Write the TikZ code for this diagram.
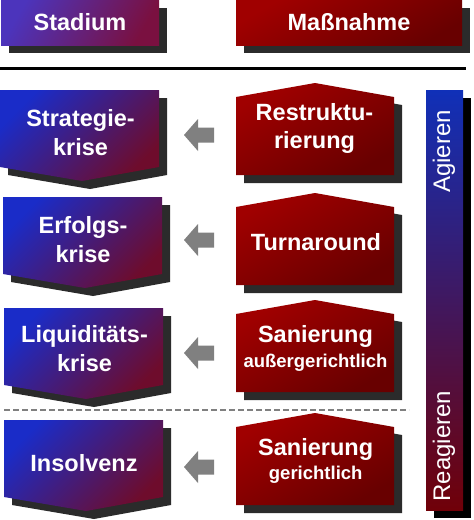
\documentclass[tikz,border=0pt]{standalone}
\usepackage{fontspec}
\setmainfont{Liberation Sans}
\definecolor{shadowgray}{HTML}{2B2B2B}
\definecolor{arrowgray}{HTML}{808080}
\definecolor{bluetop}{HTML}{1A2CC8}
\definecolor{bluemid}{HTML}{3C2284}
\definecolor{bluebot}{HTML}{6E0C2C}
\definecolor{redtop}{HTML}{A00000}
\definecolor{redbot}{HTML}{680000}
\definecolor{hdtop}{HTML}{4C34BC}
\definecolor{hdbot}{HTML}{7A1040}
\definecolor{bartop}{HTML}{1030B8}
\definecolor{barmid}{HTML}{46207A}
\definecolor{barbot}{HTML}{700008}
\tikzset{
  bluegrad/.style={top color=bluetop, middle color=bluemid, bottom color=bluebot, shading angle=45},
  redgrad/.style={top color=redtop, bottom color=redbot, shading angle=30},
  txt/.style={text=white, inner sep=0pt, align=center, font=\bfseries\fontsize{23.5}{29}\selectfont},
  subtxt/.style={txt, font=\bfseries\fontsize{23.5}{25}\selectfont},
  bartxt/.style={text=white, inner sep=0pt, rotate=90, font=\fontsize{24}{28}\selectfont},
  crisis/.pic={
    \fill[shadowgray] (8,8) -- (167,8) -- (167,85) -- (90,99) -- (8,85) -- cycle;
    \shade[bluegrad] (0,0) -- (159,0) -- (159,77) -- (82,91) -- (0,77) -- cycle;
  },
  measure/.pic={
    \fill[shadowgray] (8,22) -- (87,8) -- (166,22) -- (166,100) -- (8,100) -- cycle;
    \shade[redgrad] (0,14) -- (79,0) -- (158,14) -- (158,92) -- (0,92) -- cycle;
  },
  grayarrow/.pic={
    \fill[arrowgray] (-15,0) -- (-1,-16) -- (-1,-7.5) -- (15,-7.5) -- (15,7.5) -- (-1,7.5) -- (-1,16) -- cycle;
  }
}
\begin{document}
\begin{tikzpicture}[x=1pt,y=-1pt]
\useasboundingbox[fill=white] (0,0) rectangle (474,520);

% headers
\fill[shadowgray] (9,8) rectangle (167,53);
\shade[top color=hdtop, bottom color=hdbot, shading angle=60] (1,0) rectangle (159,45);
\node[txt] (hs) at (80,22.5) {Stadium};
\fill[shadowgray] (244,8) rectangle (470,53);
\shade[redgrad] (236,0) rectangle (462,45);
\node[txt] (hm) at (349,22.5) {Maßnahme};

% separator lines
\coordinate (l1) at (0,68);
\coordinate (l2) at (466,68);
\draw[line width=3pt] (l1) -- (l2);
\coordinate (d1) at (4,410);
\coordinate (d2) at (409,410);
\draw[arrowgray, line width=2pt, dash pattern=on 6pt off 3pt] (d1) -- (d2);

% crisis stages
\pic at (0,90) {crisis};
\pic at (3,197) {crisis};
\pic at (4,308) {crisis};
\pic at (4,420) {crisis};
\node[txt] (s1) at (80.5,132.5) {Strategie-\\krise};
\node[txt] (s2) at (83,240) {Erfolgs-\\krise};
\node[txt] (s3) at (84.5,348.5) {Liquiditäts-\\krise};
\node[txt] (s4) at (84,463) {Insolvenz};

% measures
\pic at (236,83) {measure};
\pic at (236,193) {measure};
\pic at (236,300) {measure};
\pic at (236,413) {measure};
\node[txt, font=\bfseries\fontsize{23.5}{27.6}\selectfont] (m1) at (314.5,128.3) {Restruktu-\\rierung};
\node[txt] (m2) at (316,241.7) {Turnaround};
\node[subtxt] (m3) at (315.5,348) {Sanierung\\{\fontsize{18.5}{25}\selectfont außergerichtlich}};
\node[subtxt, font=\bfseries\fontsize{23.5}{24}\selectfont] (m4) at (315.7,460.5) {Sanierung\\{\fontsize{18.5}{24}\selectfont gerichtlich}};

% arrows from measure to stage
\coordinate (a1) at (199,135);
\coordinate (a2) at (199,240);
\coordinate (a3) at (199,353);
\coordinate (a4) at (199,467);
\pic at (a1) {grayarrow};
\pic at (a2) {grayarrow};
\pic at (a3) {grayarrow};
\pic at (a4) {grayarrow};

% side bar
\fill[black] (434,98) rectangle (471,518);
\shade[top color=bartop, middle color=barmid, bottom color=barbot] (426,90) rectangle (463,510);
\node[bartxt] (ag) at (444,151.5) {Agieren};
\node[bartxt] (re) at (444,446) {Reagieren};
\end{tikzpicture}
\end{document}
